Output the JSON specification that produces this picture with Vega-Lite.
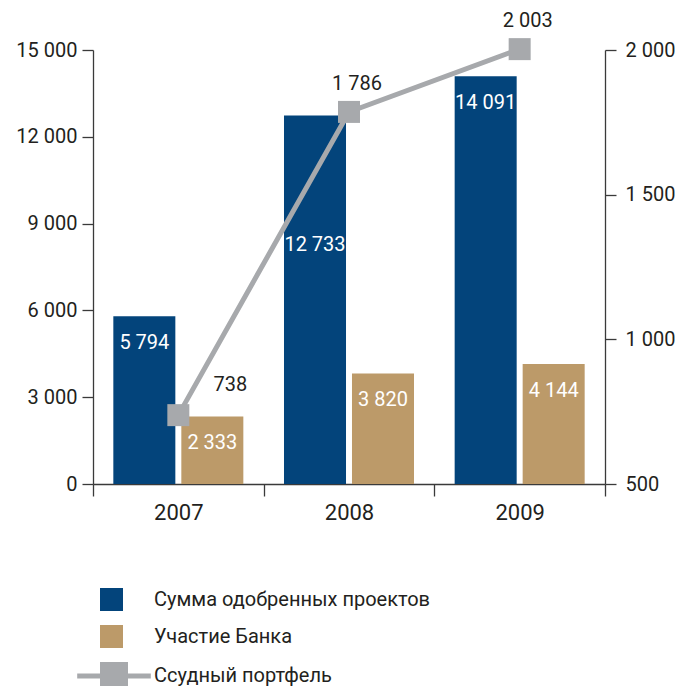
{
  "$schema": "https://vega.github.io/schema/vega-lite/v6.json",
  "width": 512,
  "height": 434,
  "autosize": {"type": "none"},
  "padding": {"left": 93, "top": 50, "right": 76, "bottom": 202},
  "background": "white",
  "config": {
    "view": {"stroke": null},
    "font": "Roboto",
    "locale": {"number": {"decimal": ",", "thousands": " ", "grouping": [3], "currency": ["", ""]}},
    "axis": {"grid": false, "title": null, "domainColor": "#3a3a3a", "tickColor": "#3a3a3a", "labelColor": "#231f20", "labelFont": "Roboto", "domainWidth": 1.3, "tickWidth": 1.3}
  },
  "datasets": {
    "bars": [
      {"year": "2007", "series": "Сумма одобренных проектов", "value": 5794},
      {"year": "2007", "series": "Участие Банка", "value": 2333},
      {"year": "2008", "series": "Сумма одобренных проектов", "value": 12733},
      {"year": "2008", "series": "Участие Банка", "value": 3820},
      {"year": "2009", "series": "Сумма одобренных проектов", "value": 14091},
      {"year": "2009", "series": "Участие Банка", "value": 4144}
    ],
    "line": [
      {"year": "2007", "series": "Ссудный портфель", "value": 738},
      {"year": "2008", "series": "Ссудный портфель", "value": 1786},
      {"year": "2009", "series": "Ссудный портфель", "value": 2003}
    ]
  },
  "encoding": {
    "x": {
      "field": "year", "type": "nominal",
      "scale": {"paddingInner": 0, "paddingOuter": 0},
      "axis": {"orient": "bottom", "labelAngle": 0, "tickBand": "extent", "tickSize": 12, "labelFontSize": 22, "labelPadding": 6, "labelBaseline": "top"}
    }
  },
  "layer": [
    {
      "data": {"name": "bars"},
      "layer": [
        {
          "mark": {"type": "bar"},
          "encoding": {
            "xOffset": {"field": "series", "type": "nominal", "scale": {"paddingInner": 0.088, "paddingOuter": 0.299}},
            "y": {"field": "value", "type": "quantitative", "scale": {"domain": [0, 15000], "nice": false, "zero": true},
              "axis": {"orient": "left", "values": [0, 3000, 6000, 9000, 12000, 15000], "format": ",d", "tickSize": 11, "labelFontSize": 20, "labelPadding": 5}},
            "color": {"field": "series", "type": "nominal",
              "scale": {"domain": ["Сумма одобренных проектов", "Участие Банка"], "range": ["#03447B", "#BC9A69"]},
              "legend": {"orient": "none", "legendX": 7, "legendY": 538, "title": null, "symbolType": "square", "symbolSize": 529, "symbolStrokeWidth": 0, "labelFontSize": 20, "labelColor": "#231f20", "labelOffset": 31, "rowPadding": 14, "labelLimit": 500, "padding": 0, "labelFont": "Roboto"}}
          }
        },
        {
          "transform": [{"filter": "!(datum.year == '2008' && datum.value > 10000)"}],
          "mark": {"type": "text", "color": "white", "fontSize": 20, "baseline": "middle", "dy": 27},
          "encoding": {
            "xOffset": {"field": "series", "type": "nominal", "scale": {"paddingInner": 0.088, "paddingOuter": 0.299}},
            "y": {"field": "value", "type": "quantitative"},
            "text": {"field": "value", "type": "quantitative", "format": ",d"}
          }
        },
        {
          "transform": [{"filter": "datum.year == '2008' && datum.value > 10000"}],
          "mark": {"type": "text", "color": "white", "fontSize": 20, "baseline": "middle", "dy": 129},
          "encoding": {
            "xOffset": {"field": "series", "type": "nominal", "scale": {"paddingInner": 0.088, "paddingOuter": 0.299}},
            "y": {"field": "value", "type": "quantitative"},
            "text": {"field": "value", "type": "quantitative", "format": ",d"}
          }
        }
      ]
    },
    {
      "data": {"name": "line"},
      "encoding": {
        "y": {"field": "value", "type": "quantitative", "scale": {"domain": [500, 2000], "nice": false, "zero": false},
          "axis": {"orient": "right", "values": [500, 1000, 1500, 2000], "format": ",d", "tickSize": 11, "labelFontSize": 20, "labelPadding": 9}}
      },
      "layer": [
        {
          "mark": {"type": "line", "strokeWidth": 5},
          "encoding": {
            "stroke": {"field": "series", "type": "nominal", "scale": {"range": ["#A7A9AC"]},
              "legend": {"orient": "none", "legendX": 7, "legendY": 612, "title": null, "symbolType": "M-3.2,0H3.2M-1,-1H1V1H-1Z", "symbolSize": 529, "symbolStrokeWidth": 5, "symbolFillColor": "#A7A9AC", "symbolStrokeColor": "#A7A9AC", "labelFontSize": 20, "labelColor": "#231f20", "labelOffset": 26, "labelLimit": 500, "padding": 0, "labelFont": "Roboto"}}
          }
        },
        {
          "mark": {"type": "point", "shape": "square", "filled": true, "size": 484, "color": "#A7A9AC", "opacity": 1}
        },
        {
          "transform": [{"filter": "datum.year == '2007'"}],
          "mark": {"type": "text", "color": "#231f20", "fontSize": 20, "baseline": "middle", "dx": 52, "dy": -30},
          "encoding": {"text": {"field": "value", "type": "quantitative", "format": ",d"}}
        },
        {
          "transform": [{"filter": "datum.year != '2007'"}],
          "mark": {"type": "text", "color": "#231f20", "fontSize": 20, "baseline": "middle", "dx": 8, "dy": -28},
          "encoding": {"text": {"field": "value", "type": "quantitative", "format": ",d"}}
        }
      ]
    }
  ],
  "resolve": {"scale": {"y": "independent", "color": "independent"}}
}
